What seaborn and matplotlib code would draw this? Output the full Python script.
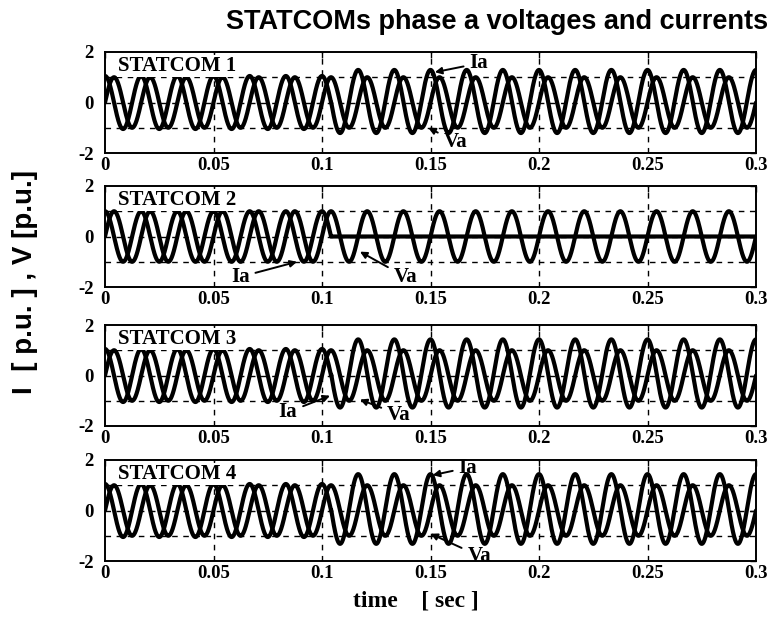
import numpy as np
import pandas as pd
import matplotlib
matplotlib.use("Agg")
import matplotlib.pyplot as plt
import seaborn as sns

# ---- data ----
statcoms = ["STATCOM 1", "STATCOM 2", "STATCOM 3", "STATCOM 4"]
freq_hz = 60.0
t_end = 0.3
v_amplitude = [1.0, 1.0, 1.0, 1.0]
i_amplitude_before = [1.05, 1.0, 1.05, 1.05]
i_amplitude_after = [1.25, 0.0, 1.35, 1.38]
i_offset_after = [0.04, 0.0, 0.08, 0.06]
switch_time = [0.1042, 0.1042, 0.1042, 0.1042]
x_ticks = [0, 0.05, 0.1, 0.15, 0.2, 0.25, 0.3]
x_tick_labels = ["0", "0.05", "0.1", "0.15", "0.2", "0.25", "0.3"]
y_ticks = [-2, 0, 2]
y_tick_labels = ["-2", "0", "2"]
# annotations: (label, text_x, text_y, arrow_x, arrow_y)
annotations = [
    [("Ia", 0.168, 1.55, 0.152, 1.2), ("Va", 0.156, -1.55, 0.149, -1.0)],
    [("Ia", 0.058, -1.6, 0.0885, -1.0), ("Va", 0.133, -1.6, 0.1175, -0.6)],
    [("Ia", 0.080, -1.45, 0.1037, -0.8), ("Va", 0.130, -1.55, 0.1175, -0.95)],
    [("Ia", 0.163, 1.7, 0.151, 1.4), ("Va", 0.167, -1.8, 0.150, -0.92)],
]

t = np.linspace(0, t_end, 4001)
w = 2 * np.pi * freq_hz

sns.set_theme(style="white")
plt.rcParams["font.family"] = ["Liberation Serif", "DejaVu Serif"]
plt.rcParams["text.color"] = "black"
plt.rcParams["axes.labelcolor"] = "black"
plt.rcParams["xtick.color"] = "black"
plt.rcParams["ytick.color"] = "black"

fig = plt.figure(figsize=(7.73, 6.27), dpi=100)
W, H = 773.0, 627.0
left_px, right_px = 105, 756
tops = [52, 186, 325, 460]
ph = 101

tick_font = dict(family="Liberation Serif", weight="bold", size=13.5)

for k, name in enumerate(statcoms):
    top = tops[k]
    ax = fig.add_axes([left_px / W, (H - top - ph) / H, (right_px - left_px) / W, ph / H])
    v = v_amplitude[k] * np.sin(w * t)
    amp = np.where(t < switch_time[k], i_amplitude_before[k], i_amplitude_after[k])
    off = np.where(t < switch_time[k], 0.0, i_offset_after[k])
    cur = amp * np.cos(w * t) + off
    df = pd.DataFrame({"t": np.concatenate([t, t]),
                       "val": np.concatenate([v, cur]),
                       "sig": ["Va"] * len(t) + ["Ia"] * len(t)})
    sns.lineplot(data=df, x="t", y="val", units="sig", estimator=None,
                 color="black", linewidth=3.0, ax=ax, legend=False, zorder=3)
    ax.set_xlim(0, t_end)
    ax.set_ylim(-2, 2)
    for gx in x_ticks[1:-1]:
        ax.axvline(gx, color="black", linestyle=(0, (4, 4)), linewidth=1.0, zorder=1)
    for gy in [-1, 0, 1]:
        ax.axhline(gy, color="black", linestyle=(0, (4, 4)), linewidth=1.0, zorder=1)
    ax.set_xticks(x_ticks)
    ax.set_xticklabels(x_tick_labels, fontdict=tick_font)
    ax.set_yticks(y_ticks)
    ax.set_yticklabels(y_tick_labels, fontdict=tick_font)
    ax.tick_params(axis="x", direction="in", length=4, width=1, pad=3,
                   colors="black", top=True)
    ax.tick_params(axis="y", direction="in", length=4, width=1, pad=8,
                   colors="black", right=True)
    ax.set_xlabel("")
    ax.set_ylabel("")
    for s in ax.spines.values():
        s.set_color("black")
        s.set_linewidth(1.4)
    ax.text(0.006, 1.45, name, fontsize=15, fontweight="bold",
            family="Liberation Serif", va="center", ha="left", zorder=5,
            bbox=dict(facecolor="white", edgecolor="none", pad=0.5))
    for lab, tx, ty, axx, ayy in annotations[k]:
        ax.annotate(lab, xy=(axx, ayy), xytext=(tx, ty),
                    fontsize=15, fontweight="bold", family="Liberation Serif",
                    va="center", ha="left", zorder=6,
                    arrowprops=dict(arrowstyle="-|>", color="black", lw=1.4,
                                    mutation_scale=10, shrinkA=2, shrinkB=0))

fig.text(497 / W, 1 - 22 / H, "STATCOMs phase a voltages and currents",
         ha="center", va="center", fontsize=19.5, fontweight="bold",
         family="Liberation Sans")
fig.text(25 / W, 1 - 282 / H, "I  [ p.u. ] , V [p.u.]", rotation=90,
         ha="center", va="center", fontsize=20, fontweight="bold",
         family="Liberation Sans")
fig.text(416 / W, 1 - 601 / H, "time    [ sec ]", ha="center", va="center",
         fontsize=17, fontweight="bold", family="Liberation Serif")

fig.savefig("out.png", dpi=100, facecolor="white")
